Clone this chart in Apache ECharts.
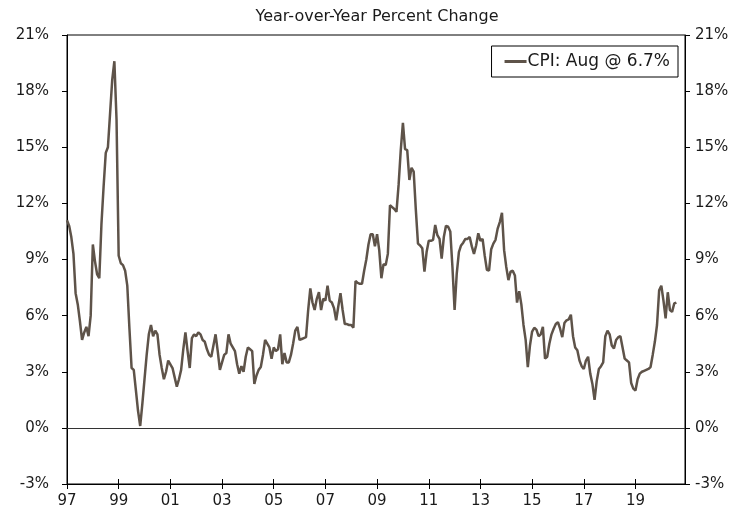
<!DOCTYPE html>
<html>
<head>
<meta charset="utf-8">
<script src="https://cdn.jsdelivr.net/npm/echarts@6/dist/echarts.min.js"></script>
<style>
    html, body { margin: 0; padding: 0; background: #fff; }
    #chart { width: 754px; height: 512px; }
</style>
</head>
<body>
<div id="chart"></div>
<script>
// monthly axis Jan 1997 - Dec 2020
var firstYear = 1997;
var lastYear = 2020;
var yTicks = [-3, 21, 3];   // min, max, step

// CPI year-over-year %, Jan 1997 - Aug 2020
var cpi1997 = [11.1, 10.8, 10.2, 9.3, 7.2, 6.6, 5.7, 4.7, 5.1, 5.4, 4.9, 6.0];
var cpi1998 = [9.8, 8.9, 8.2, 8.0, 10.9, 12.9, 14.7, 15.0, 16.8, 18.6, 19.6, 16.5];
var cpi1999 = [9.2, 8.8, 8.7, 8.4, 7.6, 5.3, 3.2, 3.1, 2.0, 0.9, 0.1, 1.3];
var cpi2000 = [2.6, 3.9, 5.0, 5.5, 4.9, 5.2, 5.0, 3.9, 3.2, 2.6, 3.0, 3.6];
var cpi2001 = [3.4, 3.2, 2.7, 2.2, 2.6, 3.1, 4.2, 5.1, 4.1, 3.2, 4.8, 5.0];
var cpi2002 = [4.9, 5.1, 5.0, 4.7, 4.6, 4.2, 3.9, 3.8, 4.4, 5.0, 4.1, 3.1];
var cpi2003 = [3.5, 3.9, 4.0, 5.0, 4.5, 4.3, 4.1, 3.4, 2.9, 3.3, 3.0, 3.8];
var cpi2004 = [4.3, 4.2, 4.1, 2.35, 2.8, 3.1, 3.25, 3.9, 4.7, 4.5, 4.3, 3.7];
var cpi2005 = [4.3, 4.1, 4.2, 5.0, 3.4, 4.0, 3.5, 3.5, 3.9, 4.5, 5.2, 5.4];
var cpi2006 = [4.7, 4.75, 4.8, 4.85, 6.3, 7.45, 6.7, 6.3, 6.9, 7.25, 6.3, 6.9];
var cpi2007 = [6.8, 7.6, 6.8, 6.7, 6.4, 5.75, 6.5, 7.2, 6.3, 5.55, 5.55, 5.5];
var cpi2008 = [5.5, 5.35, 7.85, 7.75, 7.7, 7.7, 8.4, 9.0, 9.8, 10.35, 10.35, 9.7];
var cpi2009 = [10.35, 9.5, 8.0, 8.75, 8.7, 9.3, 11.9, 11.8, 11.7, 11.55, 13.0, 14.85];
var cpi2010 = [16.3, 14.9, 14.85, 13.25, 13.9, 13.7, 11.65, 9.85, 9.75, 9.6, 8.35, 9.4];
var cpi2011 = [10.0, 10.0, 10.05, 10.85, 10.3, 10.1, 9.05, 10.2, 10.8, 10.75, 10.5, 8.6];
var cpi2012 = [6.3, 8.25, 9.4, 9.75, 9.9, 10.1, 10.1, 10.2, 9.7, 9.3, 9.75, 10.4];
var cpi2013 = [10.0, 10.1, 9.2, 8.45, 8.4, 9.55, 9.85, 10.05, 10.65, 11.0, 11.5, 9.5];
var cpi2014 = [8.6, 7.9, 8.35, 8.4, 8.15, 6.7, 7.3, 6.6, 5.5, 4.7, 3.25, 4.4];
var cpi2015 = [5.15, 5.35, 5.25, 4.9, 5.0, 5.4, 3.7, 3.8, 4.5, 5.0, 5.3, 5.55];
var cpi2016 = [5.65, 5.3, 4.85, 5.6, 5.75, 5.8, 6.05, 4.9, 4.3, 4.15, 3.6, 3.3];
var cpi2017 = [3.15, 3.6, 3.8, 2.9, 2.35, 1.5, 2.5, 3.15, 3.3, 3.5, 4.9, 5.2];
var cpi2018 = [5.0, 4.4, 4.25, 4.7, 4.85, 4.9, 4.3, 3.7, 3.6, 3.5, 2.4, 2.1];
var cpi2019 = [2.0, 2.6, 2.9, 3.0, 3.05, 3.1, 3.15, 3.25, 3.9, 4.6, 5.5, 7.35];
var cpi2020 = [7.6, 6.8, 5.85, 7.25, 6.3, 6.2, 6.65, 6.7];

var seriesName = 'CPI: Aug @ 6.7%';
var titleText = 'Year-over-Year Percent Change';

var months = [];
for (var y = firstYear; y <= lastYear; y++) {
    for (var m = 1; m <= 12; m++) {
        months.push(y + '-' + (m < 10 ? '0' + m : m));
    }
}
var cpi = [].concat(cpi1997, cpi1998, cpi1999, cpi2000, cpi2001, cpi2002, cpi2003,
    cpi2004, cpi2005, cpi2006, cpi2007, cpi2008, cpi2009, cpi2010, cpi2011, cpi2012,
    cpi2013, cpi2014, cpi2015, cpi2016, cpi2017, cpi2018, cpi2019, cpi2020);

var fontFamily = 'DejaVu Sans';
var lineColor = '#5e5349';
var textColor = '#1a1a1a';

function yAxisCfg(pos, margin) {
    return {
        type: 'value',
        position: pos,
        min: yTicks[0],
        max: yTicks[1],
        interval: yTicks[2],
        axisLine: { show: true, lineStyle: { color: '#000', width: 1 } },
        axisTick: { show: true, length: 5, lineStyle: { color: '#000' } },
        axisLabel: {
            formatter: '{value}%',
            color: textColor,
            fontFamily: fontFamily,
            fontSize: 15,
            margin: margin
        },
        splitLine: { show: false }
    };
}

var chart = echarts.init(document.getElementById('chart'));
chart.setOption({
    animation: false,
    title: {
        text: titleText,
        left: 'center',
        top: 4,
        textStyle: { fontFamily: fontFamily, fontSize: 16, fontWeight: 'normal', color: textColor }
    },
    legend: {
        top: 46,
        right: 76,
        data: [seriesName],
        icon: 'rect',
        itemWidth: 22,
        itemHeight: 3,
        itemGap: 0,
        padding: [7, 8, 7, 13],
        borderColor: '#000',
        borderWidth: 1,
        backgroundColor: '#fff',
        textStyle: { fontFamily: fontFamily, fontSize: 17, color: textColor, padding: [0, 0, 0, -4] }
    },
    grid: {
        left: 67,
        right: 69,
        top: 35,
        bottom: 28,
        show: true,
        borderColor: '#000',
        borderWidth: 1
    },
    xAxis: [
        {
            type: 'category',
            data: months,
            boundaryGap: false,
            axisLine: { onZero: false, lineStyle: { color: '#000' } },
            axisTick: { interval: 23, length: 5, lineStyle: { color: '#000' } },
            axisLabel: {
                interval: 23,
                formatter: function (v) { return v.slice(2, 4); },
                color: textColor,
                fontFamily: fontFamily,
                fontSize: 15,
                margin: 10
            },
            splitLine: { show: false }
        },
        {
            type: 'category',
            data: months,
            boundaryGap: false,
            position: 'bottom',
            axisLine: { show: false, onZero: false },
            axisTick: { inside: true, interval: 23, length: 5, lineStyle: { color: '#000' } },
            axisLabel: { show: false },
            splitLine: { show: false }
        }
    ],
    yAxis: [yAxisCfg('left', 18), yAxisCfg('right', 10)],
    series: [
        {
            name: seriesName,
            type: 'line',
            data: cpi,
            xAxisIndex: 0,
            yAxisIndex: 0,
            showSymbol: false,
            symbol: 'none',
            lineStyle: { color: lineColor, width: 2.5 },
            itemStyle: { color: lineColor },
            markLine: {
                silent: true,
                symbol: 'none',
                label: { show: false },
                lineStyle: { color: '#333', width: 1, type: 'solid' },
                data: [{ yAxis: 0 }]
            }
        }
    ]
});
</script>
</body>
</html>
